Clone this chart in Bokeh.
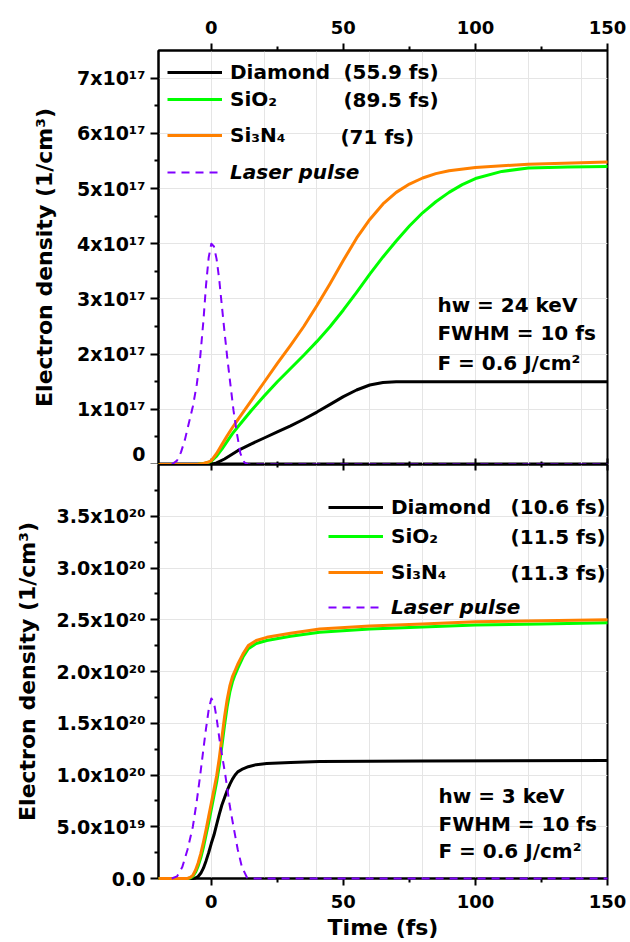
from bokeh.plotting import figure
from bokeh.models import Range1d, FixedTicker, LinearAxis, Legend, LegendItem, Label
from bokeh.layouts import column
from bokeh.embed import file_html
from bokeh.resources import INLINE

FONT = "DejaVu Sans"
C_DIA = "#000000"
C_SIO2 = "#00FF00"
C_SIN = "#FF8000"
C_LAS = "#8000FF"

# ---------------- shared x axis ----------------
x_major = [0, 50, 100, 150]
x_minor = [25, 75, 125]
x_labels = ["0", "50", "100", "150"]

# ---------------- top panel: hw = 24 keV (units of 1e17 cm^-3) ----------------
top_y_major = [0, 1, 2, 3, 4, 5, 6, 7]
top_y_minor = [0.5, 1.5, 2.5, 3.5, 4.5, 5.5, 6.5]
top_y_labels = ["0", "1x10¹⁷", "2x10¹⁷", "3x10¹⁷", "4x10¹⁷", "5x10¹⁷", "6x10¹⁷", "7x10¹⁷"]

top_t_dia = [-20, -5, 0, 2, 5, 10, 15, 20, 25, 30, 35, 40, 45, 50, 55, 60, 65, 70, 80, 100, 150]
top_n_dia = [0, 0, 0.0, 0.03, 0.1, 0.25, 0.37, 0.48, 0.59, 0.7, 0.82, 0.95, 1.09, 1.23, 1.35, 1.44, 1.485, 1.5, 1.5, 1.5, 1.5]

top_t_sio2 = [-20, -8, -5, -3, -1, 0, 2, 4, 6, 8, 10, 15, 20, 25, 30, 35, 40, 45, 50, 55, 60, 65, 70, 75, 80, 85, 90, 95, 100, 110, 120, 135, 150]
top_n_sio2 = [0, 0, 0.005, 0.015, 0.04, 0.06, 0.15, 0.28, 0.42, 0.56, 0.68, 0.97, 1.24, 1.5, 1.74, 1.98, 2.23, 2.5, 2.8, 3.12, 3.45, 3.76, 4.05, 4.32, 4.56, 4.76, 4.93, 5.07, 5.18, 5.31, 5.37, 5.39, 5.4]

top_t_sin = [-20, -8, -5, -3, -1, 0, 2, 4, 6, 8, 10, 15, 20, 25, 30, 35, 40, 45, 50, 55, 60, 65, 70, 75, 80, 85, 90, 100, 120, 150]
top_n_sin = [0, 0, 0.005, 0.02, 0.045, 0.07, 0.2, 0.36, 0.52, 0.67, 0.81, 1.15, 1.49, 1.83, 2.16, 2.5, 2.88, 3.28, 3.7, 4.1, 4.44, 4.72, 4.93, 5.08, 5.19, 5.27, 5.32, 5.38, 5.44, 5.48]

top_t_las = [-15, -13, -11.5, -10, -8.5, -7, -5.5, -4.2, -3, -2, -1, 0, 1, 2, 3, 4, 5, 6, 7.2, 8.4, 9.7, 11, 12.5, 14, 150]
top_n_las = [0, 0.07, 0.22, 0.45, 0.75, 1.05, 1.45, 1.95, 2.6, 3.25, 3.75, 4.0, 3.95, 3.72, 3.35, 2.87, 2.4, 1.95, 1.46, 0.98, 0.56, 0.2, 0.04, 0, 0]

# ---------------- bottom panel: hw = 3 keV (units of 1e20 cm^-3) ----------------
bot_y_major = [0, 0.5, 1.0, 1.5, 2.0, 2.5, 3.0, 3.5]
bot_y_minor = [0.25, 0.75, 1.25, 1.75, 2.25, 2.75, 3.25, 3.75]
bot_y_labels = ["0.0", "5.0x10¹⁹", "1.0x10²⁰", "1.5x10²⁰", "2.0x10²⁰", "2.5x10²⁰", "3.0x10²⁰", "3.5x10²⁰"]

bot_t_dia = [-20, -7, -6, -5, -4, -3, -2, -1, 0, 1, 2, 3, 4, 5, 6, 7, 8, 9, 10, 12, 14, 17, 21, 30, 41, 80, 150]
bot_n_dia = [0, 0, 0.005, 0.02, 0.05, 0.1, 0.17, 0.25, 0.34, 0.42, 0.52, 0.62, 0.71, 0.78, 0.85, 0.91, 0.96, 1.0, 1.03, 1.06, 1.08, 1.1, 1.11, 1.12, 1.13, 1.135, 1.14]

bot_t_mat = [-20, -9, -8, -7, -6, -5, -4, -3, -2, -1, 0, 1, 2, 3, 4, 5, 6, 7, 8, 9, 10, 12, 14, 17, 21, 30, 41, 60, 80, 100, 125, 150]
bot_n_sio2 = [0, 0, 0.005, 0.02, 0.06, 0.12, 0.2, 0.3, 0.42, 0.54, 0.67, 0.8, 0.93, 1.09, 1.28, 1.48, 1.66, 1.8, 1.9, 1.97, 2.03, 2.14, 2.22, 2.27, 2.3, 2.34, 2.38, 2.41, 2.43, 2.45, 2.46, 2.47]
bot_n_sin = [0, 0, 0.01, 0.03, 0.08, 0.15, 0.24, 0.35, 0.47, 0.6, 0.73, 0.86, 0.99, 1.16, 1.36, 1.56, 1.73, 1.86, 1.95, 2.01, 2.07, 2.17, 2.25, 2.3, 2.33, 2.37, 2.41, 2.44, 2.46, 2.48, 2.49, 2.5]

bot_t_las = [-15, -13, -11, -9, -7, -5.5, -4.2, -3, -2, -1, 0, 1, 2, 3, 4, 5.3, 7, 8.4, 10, 11.6, 13.5, 15, 150]
bot_n_las = [0, 0.02, 0.11, 0.28, 0.5, 0.75, 1.0, 1.25, 1.45, 1.63, 1.74, 1.7, 1.55, 1.36, 1.2, 1.0, 0.7, 0.5, 0.28, 0.11, 0.01, 0, 0]

# ---------------- text ----------------
top_legend = [("Diamond", "(55.9 fs)"), ("SiO₂", "(89.5 fs)"), ("Si₃N₄", "(71 fs)")]
bot_legend = [("Diamond", "(10.6 fs)"), ("SiO₂", "(11.5 fs)"), ("Si₃N₄", "(11.3 fs)")]
laser_label = "Laser pulse"
top_info = ["hw = 24 keV", "FWHM = 10 fs", "F = 0.6 J/cm²"]
bot_info = ["hw = 3 keV", "FWHM = 10 fs", "F = 0.6 J/cm²"]
y_title = "Electron density (1/cm³)"
x_title = "Time (fs)"


def style_axis(ax, tout, tin, mout, min_, size="19px", standoff=5):
    ax.axis_line_width = 2
    ax.axis_line_color = "black"
    ax.major_tick_line_width = 2
    ax.minor_tick_line_width = 2
    ax.major_tick_line_color = "black"
    ax.minor_tick_line_color = "black"
    ax.major_tick_out = tout
    ax.major_tick_in = tin
    ax.minor_tick_out = mout
    ax.minor_tick_in = min_
    ax.major_label_text_font = FONT
    ax.major_label_text_font_style = "bold"
    ax.major_label_text_font_size = size
    ax.major_label_text_color = "black"
    ax.major_label_standoff = standoff
    ax.axis_label_text_font = FONT
    ax.axis_label_text_font_style = "bold"
    ax.axis_label_text_font_size = "22px"
    ax.axis_label_text_color = "black"


def make_fig(height, ymax, min_top, min_bottom):
    p = figure(width=630, height=height, x_range=Range1d(-20, 150), y_range=Range1d(0, ymax),
               output_backend="svg", toolbar_location=None,
               x_axis_location=None, y_axis_location=None,
               min_border_left=158, min_border_right=23,
               min_border_top=min_top, min_border_bottom=min_bottom)
    p.outline_line_color = "black"
    p.outline_line_width = 2
    p.outline_line_alpha = 1
    p.background_fill_color = "white"
    p.border_fill_color = "white"
    return p


def hidden_x_axis(p, place):
    ax = LinearAxis(ticker=FixedTicker(ticks=x_major, minor_ticks=x_minor),
                    major_label_overrides={v: "" for v in x_major})
    style_axis(ax, 0, 6, 0, 3, size="0px", standoff=0)
    p.add_layout(ax, place)


def labeled_x_axis(p, place, standoff, title=None):
    ax = LinearAxis(ticker=FixedTicker(ticks=x_major, minor_ticks=x_minor),
                    major_label_overrides={v: s for v, s in zip(x_major, x_labels)})
    style_axis(ax, 7, 0, 4, 0, size="18px", standoff=standoff)
    if title:
        ax.axis_label = title
        ax.axis_label_standoff = 4
    p.add_layout(ax, place)


def y_axis(p, major, minor, labels, label_standoff):
    ax = LinearAxis(ticker=FixedTicker(ticks=major, minor_ticks=minor),
                    major_label_overrides={v: s for v, s in zip(major, labels)},
                    axis_label=y_title)
    style_axis(ax, 8, 0, 4, 0, size="19px", standoff=5)
    ax.axis_label_standoff = label_standoff
    p.add_layout(ax, "left")


def legend_row(p, r, text, vx, vy, style="bold"):
    lg = Legend(items=[LegendItem(label=text, renderers=[r])], location=(vx, vy),
                padding=0, margin=0, spacing=0, glyph_width=55, glyph_height=20,
                label_standoff=8, label_height=20,
                border_line_alpha=0, background_fill_alpha=0,
                label_text_font=FONT, label_text_font_style=style,
                label_text_font_size="20px", label_text_color="black")
    p.add_layout(lg)


def text(p, x, y, s):
    p.add_layout(Label(x=x, y=y, text=s, text_font=FONT, text_font_style="bold",
                       text_font_size="20px", text_baseline="middle", text_align="left",
                       text_color="black"))


def curve(p, t, n, color, width, dash="solid"):
    return p.line(t, n, line_color=color, line_width=width, line_dash=dash,
                  line_join="round", level="overlay")


# ======================= TOP =======================
p1 = make_fig(464, 7.5, 50, 0)
labeled_x_axis(p1, "above", 10)
hidden_x_axis(p1, "below")
y_axis(p1, top_y_major, top_y_minor, top_y_labels, 17)

r_d = curve(p1, top_t_dia, top_n_dia, C_DIA, 3)
r_g = curve(p1, top_t_sio2, top_n_sio2, C_SIO2, 3)
r_o = curve(p1, top_t_sin, top_n_sin, C_SIN, 3)
r_l = curve(p1, top_t_las, top_n_las, C_LAS, 2, "8 6")

legend_row(p1, r_d, top_legend[0][0], 9, 380)
legend_row(p1, r_g, top_legend[1][0], 9, 353)
legend_row(p1, r_o, top_legend[2][0], 9, 317)
legend_row(p1, r_l, laser_label, 9, 280, "bold italic")

text(p1, 50.0, 7.11, top_legend[0][1])
text(p1, 50.0, 6.61, top_legend[1][1])
text(p1, 48.9, 5.94, top_legend[2][1])

text(p1, 85.6, 2.89, top_info[0])
text(p1, 85.6, 2.38, top_info[1])
text(p1, 85.6, 1.83, top_info[2])

# ======================= BOTTOM =======================
p2 = make_fig(478, 4.0, 0, 64)
hidden_x_axis(p2, "above")
labeled_x_axis(p2, "below", 9, x_title)
y_axis(p2, bot_y_major, bot_y_minor, bot_y_labels, 14)

q_d = curve(p2, bot_t_dia, bot_n_dia, C_DIA, 3)
q_g = curve(p2, bot_t_mat, bot_n_sio2, C_SIO2, 3)
q_o = curve(p2, bot_t_mat, bot_n_sin, C_SIN, 3)
q_l = curve(p2, bot_t_las, bot_n_las, C_LAS, 2, "8 6")

legend_row(p2, q_d, bot_legend[0][0], 170, 359)
legend_row(p2, q_g, bot_legend[1][0], 170, 330)
legend_row(p2, q_o, bot_legend[2][0], 170, 294)
legend_row(p2, q_l, laser_label, 170, 259, "bold italic")

text(p2, 113.3, 3.59, bot_legend[0][1])
text(p2, 113.3, 3.30, bot_legend[1][1])
text(p2, 113.3, 2.95, bot_legend[2][1])

text(p2, 86.0, 0.80, bot_info[0])
text(p2, 86.0, 0.53, bot_info[1])
text(p2, 86.0, 0.27, bot_info[2])

layout = column(p1, p2, spacing=0)
open("out.html", "w").write(file_html(layout, INLINE))
